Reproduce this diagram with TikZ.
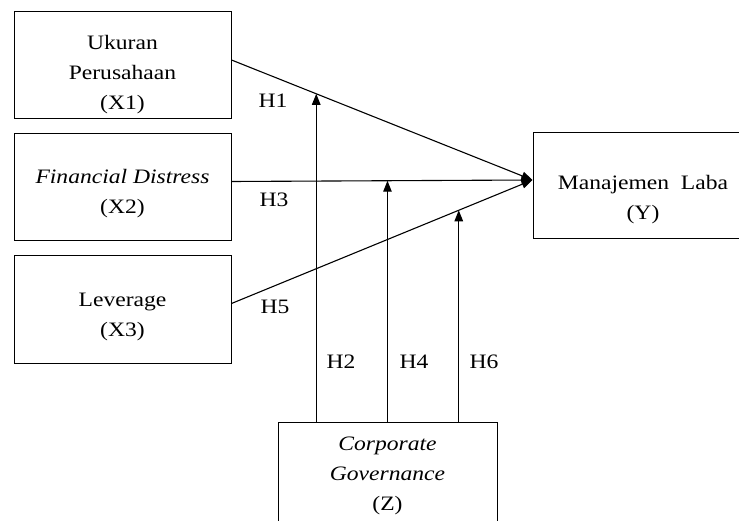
\documentclass[tikz,border=0pt]{standalone}
\usepackage{fontspec}
\setmainfont{Liberation Serif}[FakeStretch=1.15]
\usetikzlibrary{arrows.meta,positioning}

\begin{document}
\begin{tikzpicture}[x=1pt,y=1pt]
	\tikzset{box/.style={draw,line width=1pt,align=center,minimum width=217pt,minimum height=107pt,inner sep=0pt,text depth=0pt,font=\fontsize{20.5}{30}\selectfont},
		hyp/.style={inner sep=0pt,font=\fontsize{20.5}{24}\selectfont},
		link/.style={line width=1.1pt,-{Triangle[length=11pt,width=8.5pt]}}}
	\useasboundingbox (0,0) rectangle (739,-521);
	\clip (0,0) rectangle (739,-521);
	% variables
	\node [box,text height=89pt] (x1) at (122.5,-65.5) {Ukuran\\Perusahaan\\(X1)};
	\node [box,text height=53pt,below=14pt of x1] (x2) {\textit{Financial Distress}\\(X2)};
	\node [box,text height=54pt,below=14pt of x2] (x3) {Leverage\\(X3)};
	\node [box,text height=68pt,minimum width=220pt,minimum height=106pt] (y) at (643,-186) {Manajemen\ \ Laba\\(Y)};
	\node [box,text height=69pt,minimum width=219pt] (z) at (387.5,-475.5) {\textit{Corporate}\\\textit{Governance}\\(Z)};
	% hypotheses
	\node [hyp] (h1) at (273,-101) {H1};
	\node [hyp] (h3) at (274,-200) {H3};
	\node [hyp] (h5) at (275,-307) {H5};
	\node [hyp] (h2) at (341,-362) {H2};
	\node [hyp] (h4) at (414,-362) {H4};
	\node [hyp] (h6) at (484,-362) {H6};
	\coordinate (tgt) at ([yshift=6pt]y.west);
	\draw [link] ([yshift=5.5pt]x1.east) -- coordinate[pos=.2815] (m1) (tgt);
	\draw [link] ([yshift=6pt]x2.east) -- coordinate[pos=.5182] (m3) (tgt);
	\draw [link] ([yshift=6pt]x3.east) -- coordinate[pos=.755] (m5) (tgt);
	\draw [link] (m1 |- z.north) -- (m1);
	\draw [link] (m3 |- z.north) -- (m3);
	\draw [link] (m5 |- z.north) -- (m5);
\end{tikzpicture}
\end{document}
